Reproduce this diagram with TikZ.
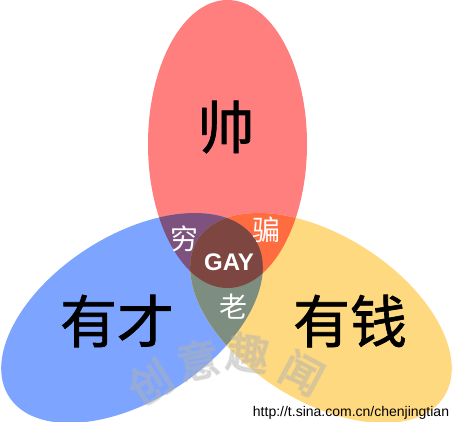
\documentclass[tikz,border=0pt]{standalone}
\usepackage{fontspec}
\setmainfont{Liberation Sans}
\newfontfamily\cjk{Noto Sans CJK SC}
\newfontfamily\cjkbold[FakeBold=1.2]{Noto Sans CJK SC}
\newfontfamily\cjkheavy[FakeBold=5]{Noto Sans CJK SC}
\definecolor{cred}{RGB}{255,127,127}
\definecolor{cblue}{RGB}{125,165,255}
\definecolor{cyellow}{RGB}{255,217,128}
\definecolor{cpurple}{RGB}{125,82,127}
\definecolor{corange}{RGB}{255,108,64}
\definecolor{cgray}{RGB}{125,141,128}
\definecolor{cbrown}{RGB}{125,70,64}
\begin{document}
\begin{tikzpicture}[x=1pt,y=-1pt,
  biglbl/.style={font=\cjkbold\fontsize{57}{57}\selectfont, text=black, inner sep=0pt},
  smalllbl/.style={font=\cjk\fontsize{28}{28}\selectfont, text=white, inner sep=0pt},
  wmark/.style={font=\cjkheavy\fontsize{42}{42}\selectfont, text=black!30, opacity=0.35, inner sep=0pt}]
\useasboundingbox (0,0) rectangle (453,421);
\fill[white] (0,0) rectangle (453,421);
\def\redE{(227.5,144) circle[x radius=79.5pt, y radius=144pt]}
\def\blueE{(132,318) circle[x radius=146pt, y radius=82.5pt, rotate=32.6]}
\def\yellowE{(321,318) circle[x radius=146pt, y radius=82.5pt, rotate=-32.6]}
\fill[cred] \redE;
\fill[cblue] \blueE;
\fill[cyellow] \yellowE;
\begin{scope}
  \clip \redE;
  \fill[cpurple] \blueE;
  \fill[corange] \yellowE;
\end{scope}
\begin{scope}
  \clip \blueE;
  \fill[cgray] \yellowE;
\end{scope}
\begin{scope}
  \clip \redE;
  \clip \blueE;
  \fill[cbrown] \yellowE;
\end{scope}
% watermark
\node[wmark, rotate=32] (w1) at (150,382) {创};
\node[wmark, rotate=12] (w2) at (198,360) {意};
\node[wmark, rotate=-8] (w3) at (248,353) {趣};
\node[wmark, rotate=-28] (w4) at (302,373) {闻};
% labels
\node[biglbl] (shuai) at (226,127) {帅};
\node[biglbl] (youcai) at (117,321) {有才};
\node[biglbl] (youqian) at (350,321) {有钱};
\node[smalllbl] (qiong) at (184,239) {穷};
\node[smalllbl] (pian) at (266,230) {骗};
\node[smalllbl] (lao) at (233,307) {老};
\node[font=\bfseries\fontsize{24}{24}\selectfont, text=white, inner sep=0pt] (gay) at (229,262) {GAY};
\node[font=\fontsize{14}{14}\selectfont, text=black, inner sep=0pt, anchor=base] (url) at (351,416) {http://t.sina.com.cn/chenjingtian};
\end{tikzpicture}
\end{document}
